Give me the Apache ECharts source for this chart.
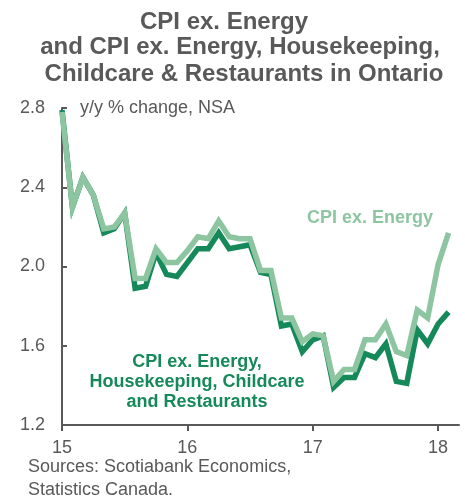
<!DOCTYPE html>
<html>
<head>
<meta charset="utf-8">
<script src="https://cdn.jsdelivr.net/npm/echarts@6/dist/echarts.min.js"></script>
<style>
  html, body { margin: 0; padding: 0; background: #fff; }
  #chart { width: 465px; height: 504px; }
</style>
</head>
<body>
<div id="chart"></div>
<script>
// monthly, Jan 2015 .. Mar 2018 (last month has no data; it only pads the axis)
const months = [
  '2015-01', '2015-02', '2015-03', '2015-04', '2015-05', '2015-06', '2015-07', '2015-08', '2015-09', '2015-10', '2015-11', '2015-12',
  '2016-01', '2016-02', '2016-03', '2016-04', '2016-05', '2016-06', '2016-07', '2016-08', '2016-09', '2016-10', '2016-11', '2016-12',
  '2017-01', '2017-02', '2017-03', '2017-04', '2017-05', '2017-06', '2017-07', '2017-08', '2017-09', '2017-10', '2017-11', '2017-12',
  '2018-01', '2018-02', '2018-03',
];

const cpiExEnergy = [
  2.78, 2.30, 2.45, 2.36, 2.19, 2.20, 2.27, 1.94, 1.94, 2.09, 2.02, 2.02,
  2.08, 2.15, 2.14, 2.23, 2.15, 2.14, 2.14, 1.98, 1.98, 1.74, 1.74, 1.62,
  1.66, 1.65, 1.42, 1.48, 1.48, 1.63, 1.63, 1.71, 1.57, 1.55, 1.78, 1.74,
  2.01, 2.17, null,
];

const cpiExEnergyHcr = [
  2.79, 2.30, 2.45, 2.36, 2.17, 2.19, 2.27, 1.89, 1.90, 2.07, 1.96, 1.95,
  2.02, 2.09, 2.09, 2.17, 2.09, 2.10, 2.11, 1.97, 1.96, 1.70, 1.71, 1.57,
  1.63, 1.65, 1.39, 1.44, 1.44, 1.56, 1.54, 1.61, 1.42, 1.41, 1.68, 1.61,
  1.71, 1.77, null,
];

const yearLabels = { '2015-01': '15', '2016-01': '16', '2017-01': '17', '2018-01': '18' };

const COLORS = {
  light: '#8dc5a1',
  dark: '#15895a',
  text: '#595959',
  axis: '#595959',
};

const FONT = '"Liberation Sans", Arial, sans-serif';

const chart = echarts.init(document.getElementById('chart'));

const isYearStart = (index, value) => value in yearLabels;

const titleLine = (text, x, y) => ({
  type: 'text', x, y,
  style: { text, fill: COLORS.text, font: `bold 24px ${FONT}`, align: 'center', verticalAlign: 'middle' },
});

chart.setOption({
  animation: false,
  grid: { left: 62, right: 6, top: 108, bottom: 79, outerBoundsMode: 'none' },
  xAxis: {
    type: 'category',
    data: months,
    boundaryGap: false,
    axisLine: { lineStyle: { color: COLORS.axis, width: 2 } },
    axisTick: { interval: isYearStart, length: 6, lineStyle: { color: COLORS.axis, width: 2 } },
    axisLabel: {
      interval: isYearStart,
      formatter: (value) => yearLabels[value] || '',
      color: COLORS.text,
      fontFamily: FONT,
      fontSize: 18,
      margin: 14,
    },
    splitLine: { show: false },
  },
  yAxis: {
    type: 'value',
    min: 1.2,
    max: 2.8,
    interval: 0.4,
    axisLine: { show: true, lineStyle: { color: COLORS.axis, width: 2 } },
    axisTick: { show: true, inside: true, length: 5, lineStyle: { color: COLORS.axis, width: 2 } },
    axisLabel: {
      formatter: (value) => value.toFixed(1),
      color: COLORS.text,
      fontFamily: FONT,
      fontSize: 18,
      margin: 17,
    },
    splitLine: { show: false },
  },
  series: [
    {
      name: 'CPI ex. Energy, Housekeeping, Childcare and Restaurants',
      type: 'line',
      data: cpiExEnergyHcr,
      showSymbol: false,
      lineStyle: { width: 5.5, color: COLORS.dark, join: 'miter' },
      z: 2,
    },
    {
      name: 'CPI ex. Energy',
      type: 'line',
      data: cpiExEnergy,
      showSymbol: false,
      lineStyle: { width: 5.5, color: COLORS.light, join: 'miter' },
      z: 3,
    },
  ],
  graphic: [
    titleLine('CPI ex. Energy', 224, 22),
    titleLine('and CPI ex. Energy, Housekeeping,', 240, 47),
    titleLine('Childcare & Restaurants in Ontario', 244, 74),
    { type: 'text', x: 80, y: 108, style: { text: 'y/y % change, NSA', fill: COLORS.text, font: `18px ${FONT}`, verticalAlign: 'middle' } },
    { type: 'text', x: 370, y: 218, style: { text: 'CPI ex. Energy', fill: COLORS.light, font: `bold 18px ${FONT}`, align: 'center', verticalAlign: 'middle' } },
    {
      type: 'text', x: 197, y: 382,
      style: {
        text: 'CPI ex. Energy,\nHousekeeping, Childcare\nand Restaurants',
        fill: COLORS.dark, font: `bold 18px ${FONT}`, align: 'center', verticalAlign: 'middle', lineHeight: 20,
      },
    },
    {
      type: 'text', x: 28, y: 479,
      style: { text: 'Sources: Scotiabank Economics,\nStatistics Canada.', fill: COLORS.text, font: `18px ${FONT}`, lineHeight: 23, verticalAlign: 'middle' },
    },
  ],
});
</script>
</body>
</html>
